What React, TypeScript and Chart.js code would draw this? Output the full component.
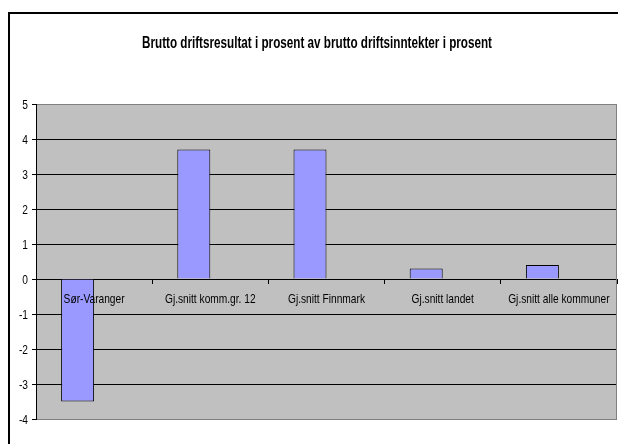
import React, { useEffect, useRef } from "react";
import { Chart, registerables } from "chart.js";

Chart.register(...registerables);

const TITLE = "Brutto driftsresultat i prosent av brutto driftsinntekter i prosent";
const categories = [
  "Sør-Varanger",
  "Gj.snitt komm.gr. 12",
  "Gj.snitt Finnmark",
  "Gj.snitt landet",
  "Gj.snitt alle kommuner",
];
const values = [-3.5, 3.7, 3.7, 0.3, 0.4];
const emptySeries = [null, null, null, null, null];
const yMin = -4;
const yMax = 5;
const yStep = 1;

const FONT = "'Liberation Sans', Arial, sans-serif";

function drawNarrow(ctx: any, text: string, x: number, y: number, align: "left" | "center" | "right", sx: number) {
  ctx.save();
  ctx.translate(x, y);
  ctx.scale(sx, 1);
  ctx.textAlign = align;
  ctx.fillText(text, 0, 0);
  ctx.restore();
}

const decorPlugin = {
  id: "decor",
  beforeDraw(chart: any) {
    const { ctx, chartArea } = chart;
    ctx.save();
    ctx.fillStyle = "#ffffff";
    ctx.fillRect(0, 0, chart.width, chart.height);
    // outer frame
    ctx.strokeStyle = "#000000";
    ctx.lineWidth = 2;
    ctx.beginPath();
    ctx.moveTo(9, chart.height);
    ctx.lineTo(9, 13);
    ctx.lineTo(chart.width, 13);
    ctx.stroke();
    // plot background
    ctx.fillStyle = "#C0C0C0";
    ctx.fillRect(chartArea.left, chartArea.top, chartArea.right - chartArea.left, chartArea.bottom - chartArea.top);
    // title
    ctx.fillStyle = "#000000";
    ctx.font = "bold 16px " + FONT;
    ctx.textBaseline = "alphabetic";
    const w = ctx.measureText(TITLE).width;
    drawNarrow(ctx, TITLE, 317, 48, "center", 350 / w);
    ctx.restore();
  },
  afterDraw(chart: any) {
    const { ctx, chartArea } = chart;
    ctx.save();
    // right plot border
    ctx.strokeStyle = "#808080";
    ctx.lineWidth = 1;
    ctx.beginPath();
    ctx.moveTo(chartArea.right - 0.5, chartArea.top);
    ctx.lineTo(chartArea.right - 0.5, chartArea.bottom);
    ctx.stroke();
    // tick labels
    ctx.fillStyle = "#000000";
    ctx.font = "13px " + FONT;
    const sx = 61 / ctx.measureText(categories[0]).width;
    ctx.textBaseline = "alphabetic";
    const xs = chart.scales.x;
    const ys = chart.scales.y;
    const zeroY = ys.getPixelForValue(0);
    categories.forEach((c, i) => {
      drawNarrow(ctx, c, xs.getPixelForValue(i), zeroY + 24, "center", sx);
    });
    ctx.textBaseline = "middle";
    for (let v = yMin; v <= yMax; v += yStep) {
      drawNarrow(ctx, String(v), chartArea.left - 8, ys.getPixelForValue(v) + 1, "right", sx);
    }
    ctx.restore();
  },
};

export default function App() {
  const ref = useRef<HTMLCanvasElement | null>(null);
  useEffect(() => {
    document.body.style.margin = "0";
    const chart = new Chart(ref.current as HTMLCanvasElement, {
      type: "bar",
      data: {
        labels: categories,
        datasets: [
          {
            data: values,
            backgroundColor: "#9999FF",
            borderColor: "#000000",
            borderWidth: 1,
            categoryPercentage: 0.568,
            barPercentage: 1,
          },
          {
            data: emptySeries as any,
            backgroundColor: "#993366",
            categoryPercentage: 0.568,
            barPercentage: 1,
          },
        ],
      },
      options: {
        animation: false,
        responsive: false,
        layout: { autoPadding: false, padding: { top: 104, bottom: 25, left: 10, right: 1 } } as any,
        plugins: { legend: { display: false }, title: { display: false }, tooltip: { enabled: false } },
        scales: {
          x: {
            position: { y: 0 } as any,
            grid: {
              offset: true,
              drawOnChartArea: false,
              drawTicks: true,
              tickLength: 4,
              color: "#000000",
            },
            border: { display: true, color: "#000000", width: 1 },
            ticks: { display: false, autoSkip: false, maxRotation: 0, minRotation: 0 },
          },
          y: {
            min: yMin,
            max: yMax,
            afterFit(scale: any) {
              scale.width = 26;
            },
            grid: {
              color: (c: any) =>
                c.tick && (c.tick.value === yMax || c.tick.value === yMin) ? "#808080" : "#000000",
              tickColor: "#000000",
              tickLength: 4,
            },
            border: { display: true, color: "#000000", width: 1 },
            ticks: { display: false, stepSize: yStep },
          },
        },
      },
      plugins: [decorPlugin],
    });
    return () => chart.destroy();
  }, []);
  return <canvas ref={ref} width={618} height={444} style={{ display: "block" }} />;
}
